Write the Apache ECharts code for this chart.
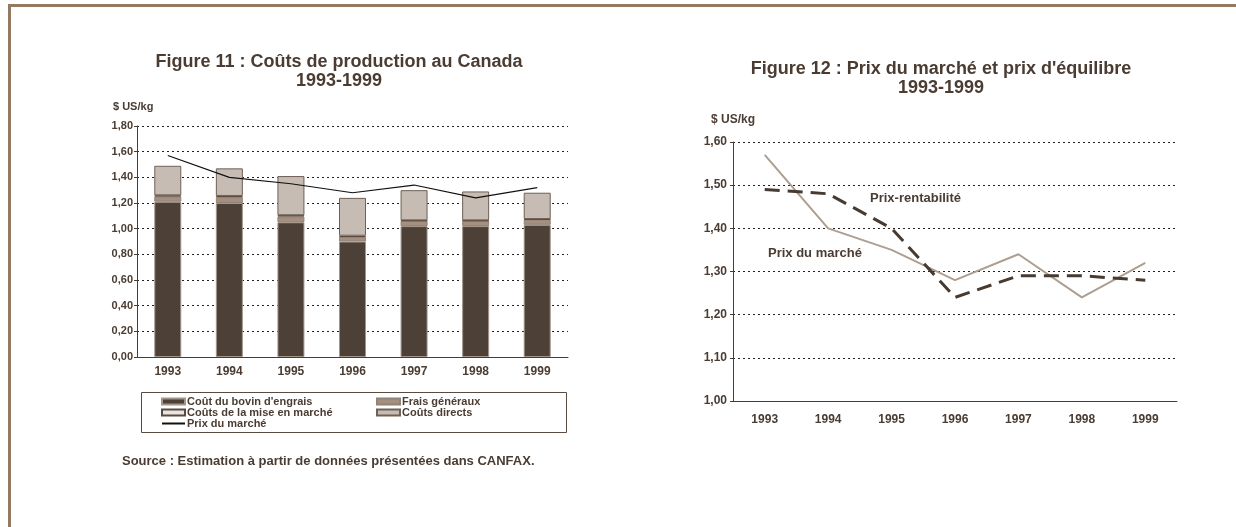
<!DOCTYPE html>
<html>
<head>
<meta charset="utf-8">
<script src="https://cdn.jsdelivr.net/npm/echarts@6/dist/echarts.min.js"></script>
<style>
  html, body { margin: 0; padding: 0; background: #fff; }
  #main { width: 1236px; height: 527px; }
</style>
</head>
<body>
<div id="main"></div>
<script>
// years for both figures
var years = ['1993', '1994', '1995', '1996', '1997', '1998', '1999'];

// Figure 11 - stacked costs ($ US/kg)
var bovin = [1.21, 1.20, 1.05, 0.90, 1.02, 1.02, 1.03];
var frais = [0.04, 0.045, 0.045, 0.035, 0.04, 0.04, 0.04];
var miseMarche = [0.01, 0.01, 0.01, 0.01, 0.005, 0.005, 0.005];
var directs = [0.23, 0.215, 0.305, 0.295, 0.235, 0.225, 0.205];
var prixMarche = [1.57, 1.40, 1.35, 1.28, 1.34, 1.24, 1.32];

// Figure 12
var prixRentabilite = [1.49, 1.48, 1.40, 1.24, 1.29, 1.29, 1.28];

var txt = '#4a3c32';
var font = '"Liberation Sans", Arial, sans-serif';

function fmt(v) {
    return v.toFixed(2).replace('.', ',');
}

var chart = echarts.init(document.getElementById('main'));

function lbl(size, margin) {
    return { color: txt, fontFamily: font, fontWeight: 'bold', fontSize: size, margin: margin };
}

var legendText = { color: txt, fontSize: 11, fontWeight: 'bold', lineHeight: 11, padding: [0, 0, 0, -3] };

chart.setOption({
    animation: false,
    textStyle: { fontFamily: font },
    title: [
        {
            text: 'Figure 11 : Coûts de production au Canada\n1993-1999',
            left: 339, top: 53, textAlign: 'center', padding: 0,
            textStyle: { color: txt, fontSize: 18, fontWeight: 'bold', lineHeight: 19, fontFamily: font }
        },
        {
            text: "Figure 12 : Prix du marché et prix d'équilibre\n1993-1999",
            left: 941, top: 60, textAlign: 'center', padding: 0,
            textStyle: { color: txt, fontSize: 18, fontWeight: 'bold', lineHeight: 19, fontFamily: font }
        }
    ],
    legend: [
        {
            orient: 'vertical', left: 161, top: 396, itemGap: 0, padding: 0,
            itemWidth: 23, itemHeight: 6,
            textStyle: legendText,
            data: [
                { name: "Coût du bovin d'engrais", icon: 'rect' },
                { name: 'Coûts de la mise en marché', icon: 'rect' },
                { name: 'Prix du marché', itemStyle: { color: 'rgba(0,0,0,0)', borderColor: 'rgba(0,0,0,0)', borderWidth: 0 } }
            ]
        },
        {
            orient: 'vertical', left: 376, top: 396, itemGap: 0, padding: 0,
            itemWidth: 23, itemHeight: 6, icon: 'rect',
            textStyle: legendText,
            data: ['Frais généraux', 'Coûts directs']
        }
    ],
    grid: [
        { left: 137, top: 126, width: 431, height: 231 },
        { left: 733, top: 142, width: 444, height: 259 }
    ],
    xAxis: [
        {
            type: 'category', gridIndex: 0, data: years,
            axisLine: { lineStyle: { color: txt, width: 1 } },
            axisTick: { lineStyle: { color: txt }, length: 4 },
            axisLabel: lbl(12, 9)
        },
        {
            type: 'category', gridIndex: 1, data: years,
            axisLine: { lineStyle: { color: txt, width: 1 } },
            axisTick: { lineStyle: { color: txt }, length: 4 },
            axisLabel: lbl(12, 13)
        }
    ],
    yAxis: [
        {
            type: 'value', gridIndex: 0, min: 0, max: 1.8, interval: 0.2,
            axisLine: { show: true, lineStyle: { color: txt } },
            axisTick: { show: true, length: 3, lineStyle: { color: txt } },
            axisLabel: Object.assign(lbl(11, 4), { formatter: fmt }),
            splitLine: { lineStyle: { color: '#222', type: [2, 3], width: 1 } }
        },
        {
            type: 'value', gridIndex: 1, min: 1.0, max: 1.6, interval: 0.1,
            axisLine: { show: true, lineStyle: { color: txt } },
            axisTick: { show: true, length: 3, lineStyle: { color: txt } },
            axisLabel: Object.assign(lbl(12, 6), { formatter: fmt }),
            splitLine: { lineStyle: { color: '#222', type: [2, 3], width: 1 } }
        }
    ],
    series: [
        {
            name: "Coût du bovin d'engrais", type: 'bar', stack: 'c', barWidth: 27,
            xAxisIndex: 0, yAxisIndex: 0, data: bovin,
            itemStyle: { color: '#4d4037', borderColor: '#a2968b', borderWidth: 1 }
        },
        {
            name: 'Frais généraux', type: 'bar', stack: 'c',
            xAxisIndex: 0, yAxisIndex: 0, data: frais,
            itemStyle: { color: '#a68f7e', borderColor: '#8f8276', borderWidth: 1 }
        },
        {
            name: 'Coûts de la mise en marché', type: 'bar', stack: 'c',
            xAxisIndex: 0, yAxisIndex: 0, data: miseMarche,
            itemStyle: { color: '#e8e5e2', borderColor: '#5a4b40', borderWidth: 1 }
        },
        {
            name: 'Coûts directs', type: 'bar', stack: 'c',
            xAxisIndex: 0, yAxisIndex: 0, data: directs,
            itemStyle: { color: '#c6bcb4', borderColor: '#6e6055', borderWidth: 1 }
        },
        {
            name: 'Prix du marché', type: 'line', symbol: 'none',
            xAxisIndex: 0, yAxisIndex: 0, data: prixMarche,
            lineStyle: { color: '#111', width: 1.2 },
            itemStyle: { color: '#111' }
        },
        {
            name: 'Prix du marché 2', type: 'line', symbol: 'none',
            xAxisIndex: 1, yAxisIndex: 1, data: prixMarche,
            lineStyle: { color: '#ad9e90', width: 2 }
        },
        {
            name: 'Prix-rentabilité', type: 'line', symbol: 'none',
            xAxisIndex: 1, yAxisIndex: 1, data: prixRentabilite,
            lineStyle: { color: '#473a31', width: 3, type: [15, 8] }
        }
    ],
    graphic: [
        {
            type: 'rect', silent: true,
            shape: { x: 9.5, y: 5.5, width: 1400, height: 700 },
            style: { fill: 'none', stroke: '#937b63', lineWidth: 3 }
        },
        {
            type: 'rect', silent: true,
            shape: { x: 141.5, y: 392.5, width: 425, height: 40 },
            style: { fill: 'none', stroke: '#5a4b40', lineWidth: 1 }
        },
        {
            type: 'text', left: 113, top: 101,
            style: { text: '$ US/kg', fill: txt, font: 'bold 11px ' + font }
        },
        {
            type: 'text', left: 711, top: 114,
            style: { text: '$ US/kg', fill: txt, font: 'bold 12px ' + font }
        },
        {
            type: 'text', left: 122, top: 455,
            style: { text: 'Source : Estimation à partir de données présentées dans CANFAX.', fill: txt, font: 'bold 13px ' + font }
        },
        {
            type: 'text', left: 870, top: 192,
            style: { text: 'Prix-rentabilité', fill: txt, font: 'bold 13px ' + font }
        },
        {
            type: 'text', left: 768, top: 247,
            style: { text: 'Prix du marché', fill: txt, font: 'bold 13px ' + font }
        }
    ]
});
</script>
</body>
</html>
